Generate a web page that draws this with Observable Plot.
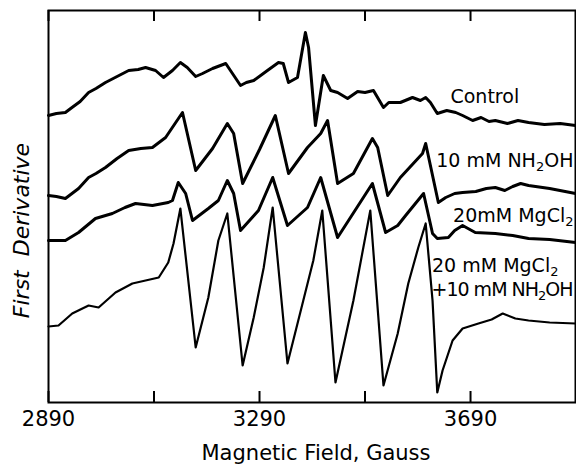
<!DOCTYPE html>
<html>
<head>
<meta charset="utf-8">
<script src="https://cdn.jsdelivr.net/npm/d3@7"></script>
<script src="https://cdn.jsdelivr.net/npm/@observablehq/plot@0.6"></script>
<style>
  html, body { margin: 0; padding: 0; background: #fff; }
  #chart { width: 576px; height: 467px; }
</style>
</head>
<body>
<div id="chart"></div>
<script>
// Magnetic field (Gauss) and first-derivative signal (arbitrary units)
const controlField  = [2890,2905,2922,2932,2950,2966,2980,2998,3020,3042,3060,3074,3093,3108,3125,3140,3153,3169,3182,3201,3226,3254,3265,3279,3305,3326,3335,3345,3362,3377,3383,3396,3411,3425,3438,3457,3476,3490,3506,3525,3535,3557,3580,3595,3605,3614,3627,3645,3662,3675,3694,3710,3725,3737,3760,3780,3800,3830,3860,3889];
const controlSignal = [287,289,290,294,301,310,314,320,326,332,333,335,332,325,332,340,335,326,329,334,339,317,320,322,332,340,339,320,325,370,355,277,327,312,310,304,311,310,312,295,300,300,305,302,305,300,289,292,290,287,282,285,281,282,279,282,280,278,279,277];

const nh2ohField  = [2890,2905,2922,2947,2966,2980,2998,3020,3042,3065,3087,3112,3144,3169,3201,3229,3241,3258,3290,3320,3345,3381,3406,3419,3438,3468,3504,3514,3533,3557,3599,3605,3629,3643,3660,3675,3700,3720,3737,3755,3770,3785,3800,3840,3889];
const nh2ohSignal = [207,206,204,214,225,229,235,244,252,254,255,265,290,232,254,279,269,219,253,287,229,255,269,282,219,229,264,255,207,225,249,259,200,205,209,210,211,214,215,212,216,219,217,214,209];

const mgField  = [2890,2922,2947,2979,3011,3035,3055,3087,3117,3125,3136,3150,3163,3193,3212,3229,3241,3254,3288,3315,3343,3381,3406,3438,3504,3529,3552,3567,3601,3618,3627,3648,3660,3675,3699,3737,3770,3800,3840,3889];
const mgSignal = [162,162,170,184,189,195,199,197,200,202,220,209,182,194,202,222,209,172,192,225,177,195,225,165,219,170,177,187,209,169,164,165,172,177,170,169,167,164,163,160];

const mgNh2ohField  = [2890,2909,2935,2966,2985,3017,3049,3074,3099,3117,3127,3140,3169,3193,3212,3229,3258,3279,3298,3315,3343,3373,3392,3409,3434,3468,3500,3525,3552,3572,3591,3605,3618,3627,3637,3656,3675,3705,3730,3751,3775,3800,3840,3889];
const mgNh2ohSignal = [76,77,89,97,95,110,119,122,125,140,159,194,55,105,162,189,37,85,135,195,39,102,142,192,20,102,192,17,69,119,155,179,102,10,32,62,74,79,83,89,84,82,80,79];

const tickValues  = [2890, 3090, 3290, 3490, 3690];
const labelValues = [2890, 3290, 3690];
const seriesNames = ["Control", "10 mM NH₂OH", "20mM MgCl₂", "20 mM MgCl₂", "+10 mM NH₂OH"];

const toRows = (fs, vs, name) => fs.map((f, i) => ({field: f, signal: vs[i], series: name}));
const rows = [
  ...toRows(controlField, controlSignal, "Control"),
  ...toRows(nh2ohField, nh2ohSignal, "NH2OH"),
  ...toRows(mgField, mgSignal, "MgCl2"),
];
const rows4 = toRows(mgNh2ohField, mgNh2ohSignal, "MgCl2+NH2OH");

const labels = [
  {text: seriesNames[0], field: 3652, signal: 300},
  {text: seriesNames[1], field: 3625, signal: 236},
  {text: seriesNames[2], field: 3657, signal: 181},
  {text: seriesNames[3], field: 3617, signal: 131},
  {text: seriesNames[4], field: 3616, signal: 107},
];

const chart = Plot.plot({
  width: 576,
  height: 467,
  marginLeft: 48,
  marginRight: 1,
  marginTop: 10,
  marginBottom: 65,
  style: {fontFamily: "DejaVu Sans", fontSize: "21px", background: "#fff", color: "#000"},
  x: {domain: [2890, 3889]},
  y: {domain: [0, 392], axis: null},
  marks: [
    Plot.line(rows, {x: "field", y: "signal", z: "series", stroke: "#000", strokeWidth: 3, strokeLinejoin: "round"}),
    Plot.line(rows4, {x: "field", y: "signal", stroke: "#000", strokeWidth: 2.2, strokeLinejoin: "round"}),
    Plot.text(labels, {x: "field", y: "signal", text: "text", textAnchor: "start", lineAnchor: "bottom", fontSize: 19, fill: "#000"}),
    Plot.tickX(tickValues, {x: d => d, insetTop: 381, stroke: "#000", strokeWidth: 2}),
    Plot.tickX(tickValues, {x: d => d, insetBottom: 381, stroke: "#000", strokeWidth: 2}),
    Plot.axisX(labelValues, {tickSize: 0, tickPadding: 9, fontSize: 21, label: null, tickFormat: d => String(d)}),
    Plot.frame({stroke: "#000", strokeWidth: 2}),
    Plot.text(["Magnetic Field, Gauss"], {frameAnchor: "bottom", dy: 57, fontSize: 21, dx: 4}),
    Plot.text(["First  Derivative"], {frameAnchor: "left", textAnchor: "middle", rotate: -90, dx: -27, dy: 24, fontSize: 22, fontStyle: "italic"})
  ]
});

// Render "₂" as a real subscript in the series labels
chart.querySelectorAll("text").forEach(t => {
  if (!t.textContent.includes("₂")) return;
  if (t.textContent.startsWith("+")) t.setAttribute("letter-spacing", "-1");
  const parts = t.textContent.split("₂");
  t.textContent = "";
  parts.forEach((p, i) => {
    if (i > 0) {
      const sub = document.createElementNS("http://www.w3.org/2000/svg", "tspan");
      sub.setAttribute("font-size", "13");
      sub.setAttribute("dy", "4");
      sub.textContent = "2";
      t.appendChild(sub);
    }
    if (p) {
      const s = document.createElementNS("http://www.w3.org/2000/svg", "tspan");
      if (i > 0) s.setAttribute("dy", "-4");
      s.textContent = p;
      t.appendChild(s);
    }
  });
});
document.getElementById("chart").appendChild(chart);
</script>
</body>
</html>
